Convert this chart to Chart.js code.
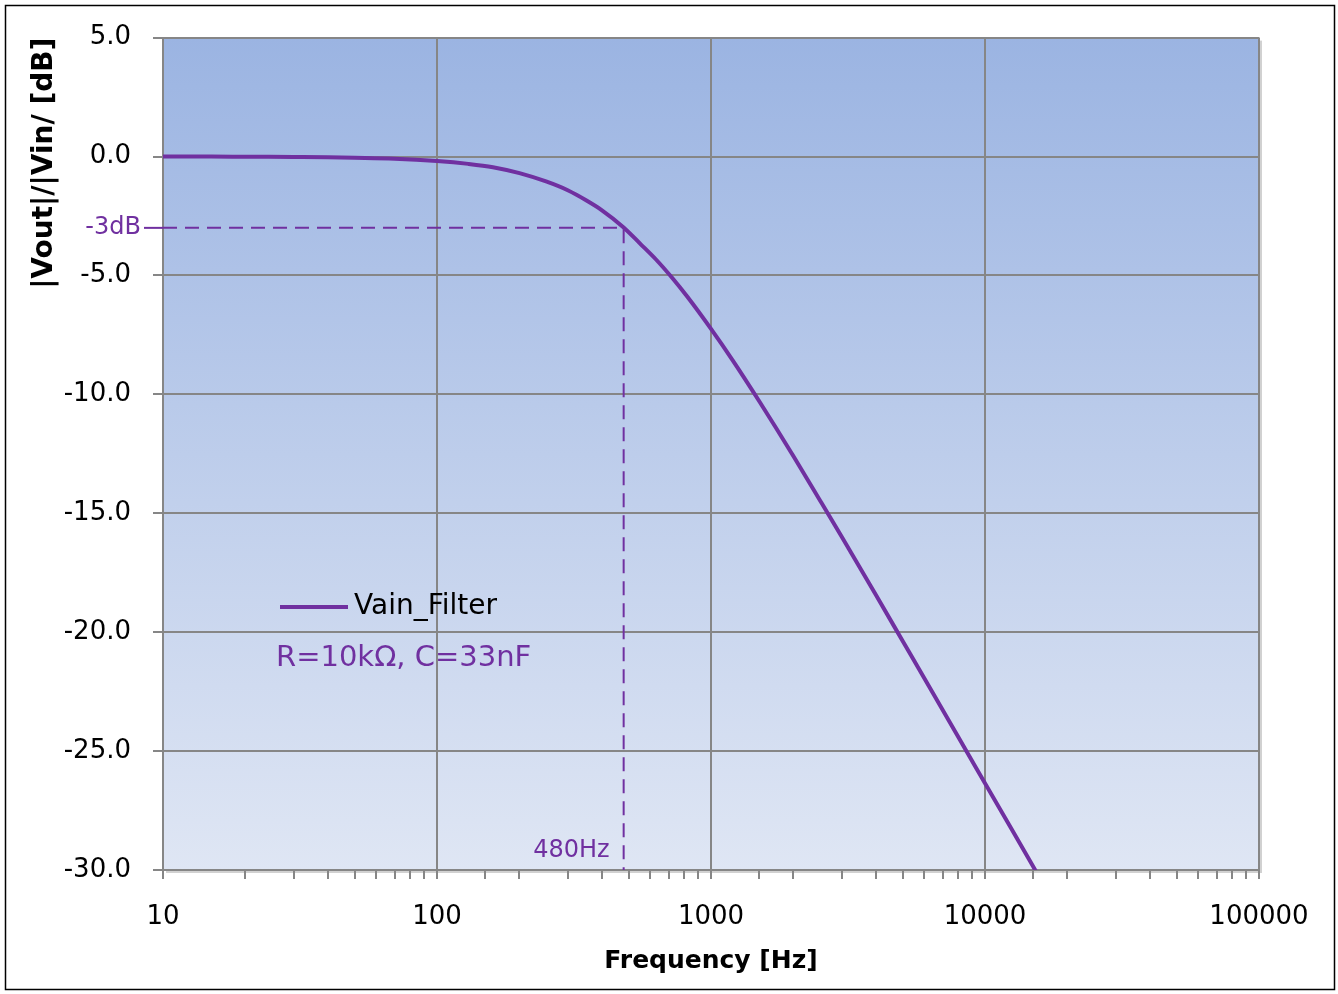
<!DOCTYPE html>
<html>
<head>
<meta charset="utf-8">
<script src="https://cdn.jsdelivr.net/npm/chart.js@4/dist/chart.umd.min.js"></script>
<style>
  html, body { margin: 0; padding: 0; background: #ffffff; }
  #wrap { width: 1338px; height: 994px; position: relative; }
</style>
</head>
<body>
<div id="wrap"><canvas id="c" width="1338" height="994"></canvas></div>
<script>
// ---- data ----
const frequencies = [10, 15, 20, 30, 40, 50, 70, 100, 130, 160, 200, 250, 300, 350, 400, 480, 550, 630, 720, 820, 1000, 1200, 1500, 2000, 2500, 3000, 4000, 5000, 6500, 8000, 10000, 12500, 15600];
const gainDb      = [0.00, 0.00, -0.01, -0.02, -0.03, -0.05, -0.09, -0.19, -0.31, -0.45, -0.70, -1.05, -1.42, -1.84, -2.26, -2.98, -3.65, -4.33, -5.09, -5.90, -7.25, -8.57, -10.29, -12.6, -14.46, -15.99, -18.44, -20.36, -22.62, -24.42, -26.35, -28.28, -30.2];
const seriesName = 'Vain_Filter';
const cutoffFreq = 480;
const cutoffDb = -3;
const cutoffFreqLabel = '480Hz';
const cutoffDbLabel = '-3dB';
const componentNote = 'R=10kΩ, C=33nF';
const xTitle = 'Frequency [Hz]';
const yTitle = '|Vout|/|Vin/ [dB]';
const xMin = 10, xMax = 100000;
const yMin = -30, yMax = 5, yStep = 5;

const PURPLE = '#7030A0';
const GRID = '#868686';
const FONT = "'DejaVu Sans', 'Open Sans', sans-serif";

const mainData = frequencies.map((f, i) => ({ x: f, y: gainDb[i] }));
const cutoffData = [{ x: xMin, y: cutoffDb }, { x: cutoffFreq, y: cutoffDb }, { x: cutoffFreq, y: yMin }];

const decorPlugin = {
  id: 'decor',
  beforeDraw(chart) {
    const { ctx, chartArea: a } = chart;
    ctx.save();
    ctx.fillStyle = '#ffffff';
    ctx.fillRect(0, 0, chart.width, chart.height);
    ctx.fillStyle = 'rgba(0,0,0,0.18)';
    ctx.fillRect(a.left + 3, a.top + 3, a.right - a.left, a.bottom - a.top);
    const g = ctx.createLinearGradient(0, a.top, 0, a.bottom);
    g.addColorStop(0, '#9BB4E2');
    g.addColorStop(1, '#DFE6F4');
    ctx.fillStyle = g;
    ctx.fillRect(a.left, a.top, a.right - a.left, a.bottom - a.top);
    ctx.restore();
  },
  afterDraw(chart) {
    const { ctx, chartArea: a, scales: { x, y } } = chart;
    ctx.save();
    ctx.strokeStyle = '#000000';
    ctx.lineWidth = 1.5;
    ctx.strokeRect(5.5, 5.5, 1329, 984);

    const yc = y.getPixelForValue(cutoffDb);
    ctx.strokeStyle = PURPLE;
    ctx.lineWidth = 2;
    ctx.beginPath();
    ctx.moveTo(144, yc);
    ctx.lineTo(a.left, yc);
    ctx.stroke();
    ctx.fillStyle = PURPLE;
    ctx.font = "24px " + FONT;
    ctx.textAlign = 'right';
    ctx.textBaseline = 'middle';
    ctx.fillText(cutoffDbLabel, 141, yc);
    const xc = x.getPixelForValue(cutoffFreq);
    ctx.fillText(cutoffFreqLabel, xc - 14, a.bottom - 19);

    ctx.strokeStyle = PURPLE;
    ctx.lineWidth = 4;
    ctx.beginPath();
    ctx.moveTo(280, 607);
    ctx.lineTo(348, 607);
    ctx.stroke();
    ctx.font = "28px " + FONT;
    ctx.textAlign = 'left';
    ctx.fillStyle = '#000000';
    ctx.fillText(seriesName, 354, 607);
    ctx.fillStyle = PURPLE;
    ctx.font = "29px " + FONT;
    ctx.fillText(componentNote, 276, 658);
    ctx.restore();
  }
};

const isDecade = v => Math.abs(Math.log10(v) - Math.round(Math.log10(v))) < 1e-9;

new Chart(document.getElementById('c'), {
  type: 'line',
  data: {
    datasets: [
      {
        label: seriesName,
        data: mainData,
        borderColor: PURPLE,
        borderWidth: 4,
        pointRadius: 0,
        cubicInterpolationMode: 'monotone',
        fill: false
      },
      {
        label: 'cutoff',
        data: cutoffData,
        borderColor: PURPLE,
        borderWidth: 2,
        borderDash: [14, 8],
        pointRadius: 0,
        tension: 0,
        fill: false
      }
    ]
  },
  options: {
    responsive: false,
    animation: false,
    devicePixelRatio: 1,
    layout: { padding: { left: 0, top: 36, right: 79, bottom: 0 } },
    plugins: { legend: { display: false }, tooltip: { enabled: false } },
    scales: {
      x: {
        type: 'logarithmic',
        min: xMin, max: xMax,
        afterFit: s => { s.height = 124; },
        grid: {
          color: ctx => (ctx.tick && isDecade(ctx.tick.value)) ? GRID : 'rgba(0,0,0,0)',
          tickColor: GRID,
          lineWidth: 2,
          tickLength: 9,
          drawTicks: true
        },
        border: { color: GRID, width: 2 },
        ticks: {
          autoSkip: false,
          maxRotation: 0,
          padding: 23,
          color: '#000000',
          font: { family: FONT, size: 26 },
          callback: v => isDecade(v) ? String(Math.round(v)) : ''
        },
        title: {
          display: true, text: xTitle, color: '#000000',
          font: { family: FONT, size: 25, weight: 'bold' },
          padding: { top: 0, bottom: 18 }
        }
      },
      y: {
        min: yMin, max: yMax,
        afterFit: s => { s.width = 163; },
        grid: { color: GRID, lineWidth: 2, tickColor: GRID, tickLength: 10 },
        border: { color: GRID, width: 2 },
        ticks: {
          stepSize: yStep,
          padding: 22,
          color: '#000000',
          font: { family: FONT, size: 26 },
          callback: v => Number(v).toFixed(1)
        },
        title: {
          display: true, text: yTitle, color: '#000000', align: 'end',
          font: { family: FONT, size: 28, weight: 'bold' },
          padding: { top: 28, bottom: 0 }
        }
      }
    }
  },
  plugins: [decorPlugin]
});
</script>
</body>
</html>
